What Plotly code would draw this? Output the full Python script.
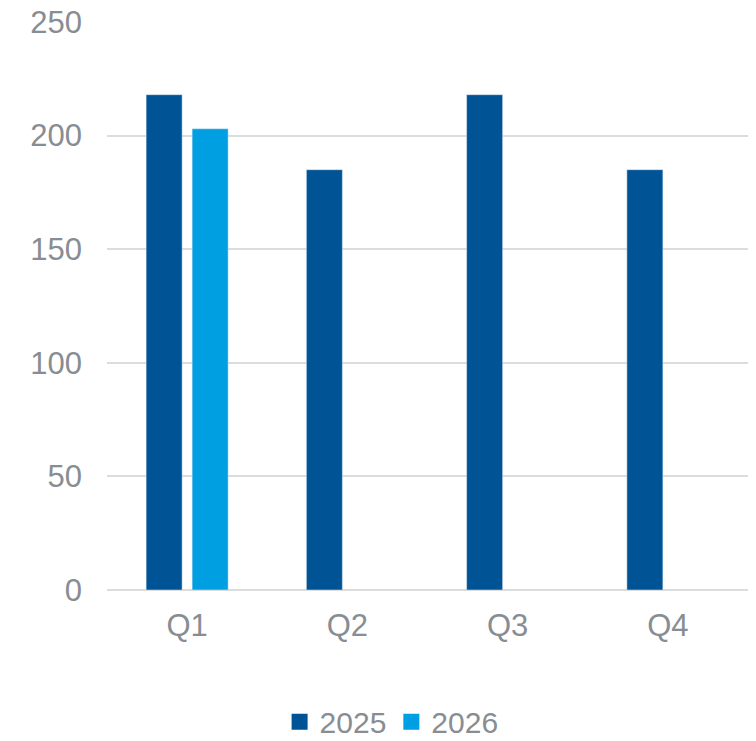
import plotly.graph_objects as go

quarters = ["Q1", "Q2", "Q3", "Q4"]
sales_2025 = [218, 185, 218, 185]
sales_2026 = [203, None, None, None]
y_ticks = [0, 50, 100, 150, 200, 250]

series = [("2025", sales_2025, "#005496"), ("2026", sales_2026, "#009fe1")]

text_grey = "#878d92"
grid_grey = "#dcdcdc"
font_size = 31

fig = go.Figure()
for name, values, colour in series:
    fig.add_trace(go.Bar(name=name, x=quarters, y=values, marker_color=colour,
                         legendgroup=name, showlegend=False))
# legend entries with larger square swatches
for name, values, colour in series:
    fig.add_trace(go.Scatter(name=name, x=[quarters[0]], y=[None], mode="markers",
                             marker=dict(symbol="square", size=16, color=colour),
                             legendgroup=name, showlegend=True, hoverinfo="skip"))

fig.update_layout(
    width=756,
    height=741,
    margin=dict(l=107, r=8, t=22, b=151, autoexpand=False),
    paper_bgcolor="white",
    plot_bgcolor="white",
    barmode="group",
    bargap=0.426,
    bargroupgap=0.217,
    font=dict(family="Liberation Sans, Arial, sans-serif", size=font_size, color=text_grey),
    showlegend=True,
    legend=dict(
        orientation="h",
        x=0.444,
        xanchor="center",
        y=-0.232,
        yanchor="middle",
        font=dict(size=30, color=text_grey),
        itemwidth=30,
        tracegroupgap=0,
    ),
    xaxis=dict(
        showgrid=False,
        showline=False,
        ticks="",
        ticklabelstandoff=14,
        tickfont=dict(size=font_size, color=text_grey),
    ),
    yaxis=dict(
        range=[0, 250],
        tickvals=y_ticks,
        showgrid=True,
        gridcolor=grid_grey,
        gridwidth=2,
        zeroline=True,
        zerolinecolor=grid_grey,
        zerolinewidth=2,
        showline=False,
        ticks="",
        ticklabelstandoff=24,
        tickfont=dict(size=font_size, color=text_grey),
    ),
)

fig.write_html("out.html")
